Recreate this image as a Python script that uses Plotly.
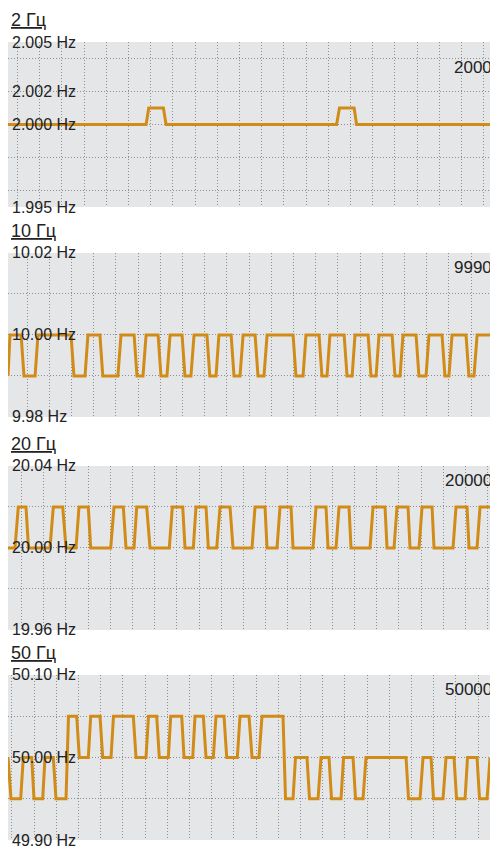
import plotly.graph_objects as go

# ---------------- data ----------------
titles = ["2 Гц", "10 Гц", "20 Гц", "50 Гц"]
right_values = ["2000", "9990", "20000", "50000"]

y_ranges = [(1.995, 2.005), (9.98, 10.02), (19.96, 20.04), (49.90, 50.10)]
y_grid = [[1.996, 1.998, 2.000, 2.002, 2.004],
          [9.99, 10.00, 10.01],
          [19.98, 20.00, 20.02],
          [49.95, 50.00, 50.05]]
y_labels = [[(2.005, "2.005 Hz"), (2.002, "2.002 Hz"), (2.000, "2.000 Hz"), (1.995, "1.995 Hz")],
            [(10.02, "10.02 Hz"), (10.00, "10.00 Hz"), (9.98, "9.98 Hz")],
            [(20.04, "20.04 Hz"), (20.00, "20.00 Hz"), (19.96, "19.96 Hz")],
            [(50.10, "50.10 Hz"), (50.00, "50.00 Hz"), (49.90, "49.90 Hz")]]

# time (grid units) and measured frequency
t1 = [0, 6.22, 6.34, 7.0, 7.12, 14.8, 14.93, 15.59, 15.7, 21.71]
f1 = [2.000, 2.000, 2.001, 2.001, 2.000, 2.000, 2.001, 2.001, 2.000, 2.000]

L2, H2 = 9.99, 10.00
t2 = [0.0, 0.09,
      0.59, 0.72, 1.22, 1.35, 2.84, 2.97, 3.47, 3.6, 4.14, 4.27, 4.95, 5.09,
      5.68, 5.81, 6.08, 6.22, 6.76, 6.89, 7.16, 7.3, 7.84, 7.97, 8.24, 8.38,
      8.96, 9.09, 9.37, 9.5, 10.05, 10.18, 10.45, 10.59, 11.13, 11.26, 11.53, 11.67,
      12.84, 12.97, 13.29, 13.42, 14.01, 14.14, 14.37, 14.5, 15.14, 15.27, 15.5, 15.63,
      16.22, 16.35, 16.58, 16.71, 17.3, 17.43, 17.66, 17.79, 18.38, 18.51, 18.83, 18.96,
      19.55, 19.68, 19.86, 20.0, 20.63, 20.76, 20.99, 21.13, 21.71]
f2 = [L2, H2,
      H2, L2, L2, H2, H2, L2, L2, H2, H2, L2, L2, H2,
      H2, L2, L2, H2, H2, L2, L2, H2, H2, L2, L2, H2,
      H2, L2, L2, H2, H2, L2, L2, H2, H2, L2, L2, H2,
      H2, L2, L2, H2, H2, L2, L2, H2, H2, L2, L2, H2,
      H2, L2, L2, H2, H2, L2, L2, H2, H2, L2, L2, H2,
      H2, L2, L2, H2, H2, L2, L2, H2, H2]

L3, H3 = 20.00, 20.02
t3 = [0, 0.315, 0.464, 0.811, 0.923, 1.892, 2.041, 2.464, 2.613, 3.063, 3.198, 3.617, 3.725,
      4.626, 4.775, 5.194, 5.315, 5.676, 5.797, 6.248, 6.396, 7.266, 7.401, 7.869, 7.973,
      8.347, 8.468, 8.919, 9.023, 9.401, 9.55, 10.0, 10.135, 10.991, 11.126, 11.577, 11.667,
      12.117, 12.252, 12.748, 12.838, 13.739, 13.874, 14.324, 14.414, 14.775, 14.91, 15.36, 15.45,
      16.306, 16.441, 16.982, 17.072, 17.387, 17.523, 18.018, 18.108, 18.514, 18.649, 19.1, 19.189,
      20.045, 20.18, 20.676, 20.766, 21.126, 21.261, 21.71]
f3 = [L3, L3, H3, H3, L3, L3, H3, H3, L3, L3, H3, H3, L3,
      L3, H3, H3, L3, L3, H3, H3, L3, L3, H3, H3, L3,
      L3, H3, H3, L3, L3, H3, H3, L3, L3, H3, H3, L3,
      L3, H3, H3, L3, L3, H3, H3, L3, L3, H3, H3, L3,
      L3, H3, H3, L3, L3, H3, H3, L3, L3, H3, H3, L3,
      L3, H3, H3, L3, L3, H3, H3]

A4, B4, C4 = 49.95, 50.00, 50.05
t4 = [0, 0.135, 0.572, 0.689, 1.068, 1.171, 1.563, 1.667, 2.041, 2.162, 2.613, 2.725,
      3.095, 3.212, 3.617, 3.725, 4.144, 4.266, 4.64, 4.752, 5.644, 5.766, 6.216, 6.329,
      6.698, 6.815, 7.221, 7.329, 7.824, 7.928, 8.32, 8.423, 8.797, 8.919, 9.248, 9.369,
      9.73, 9.851, 10.329, 10.45, 10.856, 10.991, 11.306, 11.441, 12.387, 12.5, 12.838, 12.95,
      13.468, 13.581, 13.964, 14.099, 14.459, 14.572, 15.0, 15.113, 15.541, 15.653, 15.991, 16.126,
      17.928, 18.041, 18.559, 18.694, 19.054, 19.167, 19.595, 19.73, 20.09, 20.203, 20.586, 20.698,
      21.126, 21.239, 21.577, 21.712]
f4 = [B4, A4, A4, B4, B4, A4, A4, B4, B4, A4, A4, C4,
      C4, B4, B4, C4, C4, B4, B4, C4, C4, B4, B4, C4,
      C4, B4, B4, C4, C4, B4, B4, C4, C4, B4, B4, C4,
      C4, B4, B4, C4, C4, B4, B4, C4, C4, A4, A4, B4,
      B4, A4, A4, B4, B4, A4, A4, B4, B4, A4, A4, B4,
      B4, A4, A4, B4, B4, A4, A4, B4, B4, A4, A4, B4,
      B4, A4, A4, B4]

series_t = [t1, t2, t3, t4]
series_f = [f1, f2, f3, f4]

x_span = 21.71
x_grid_offset = [0.43, 0.856, 0.61, 0.175]

# ---------------- style ----------------
domains = [(0.7932, 1.0), (0.5301, 0.7356), (0.2632, 0.4687), (0.0, 0.2068)]
right_shift = [-25, -15, -15, -15]
LINE = "#d18b17"
BG = "#e5e6e8"
GRID = "#8e8e8e"
TXT = "#222222"
FONT = "Liberation Sans, Arial, sans-serif"

fig = go.Figure()
annotations = []
for i in range(4):
    n = "" if i == 0 else str(i + 1)
    fig.add_trace(go.Scatter(
        x=series_t[i], y=series_f[i], mode="lines",
        line=dict(color=LINE, width=3), xaxis="x" + n, yaxis="y" + n,
        hoverinfo="skip", showlegend=False))
    fig.layout["xaxis" + n] = dict(
        domain=[0, 1], range=[0, x_span], anchor="y" + n,
        tick0=x_grid_offset[i], dtick=1, showgrid=True, gridcolor=GRID,
        griddash="1px,2px", gridwidth=1, showticklabels=False, ticks="",
        zeroline=False, showline=False, fixedrange=True)
    fig.layout["yaxis" + n] = dict(
        domain=list(domains[i]), range=list(y_ranges[i]), anchor="x" + n,
        tickmode="array", tickvals=y_grid[i], showgrid=True, gridcolor=GRID,
        griddash="1px,2px", gridwidth=1, showticklabels=False, ticks="",
        zeroline=False, showline=False, fixedrange=True)
    xd = "x" + n + " domain"
    yd = "y" + n + " domain"
    annotations.append(dict(
        text="<u>" + titles[i] + "</u>", xref=xd, yref=yd, x=0, y=1,
        xanchor="left", yanchor="middle", xshift=1, yshift=22, showarrow=False,
        font=dict(size=18, color=TXT, family=FONT)))
    annotations.append(dict(
        text=right_values[i], xref=xd, yref=yd, x=1, y=1,
        xanchor="right", yanchor="middle", xshift=4, yshift=right_shift[i],
        showarrow=False, font=dict(size=17, color=TXT, family=FONT)))
    for val, lab in y_labels[i]:
        annotations.append(dict(
            text=lab, xref=xd, yref="y" + n, x=0, y=val,
            xanchor="left", yanchor="middle", xshift=2, showarrow=False,
            font=dict(size=16, color=TXT, family=FONT)))

fig.update_layout(
    width=490, height=848,
    margin=dict(l=8, r=0, t=42, b=8),
    paper_bgcolor="white", plot_bgcolor=BG,
    annotations=annotations,
    showlegend=False,
)

fig.write_html("out.html", config={"displayModeBar": False},
               post_script="document.body.style.margin='0';document.body.style.overflow='hidden';")
